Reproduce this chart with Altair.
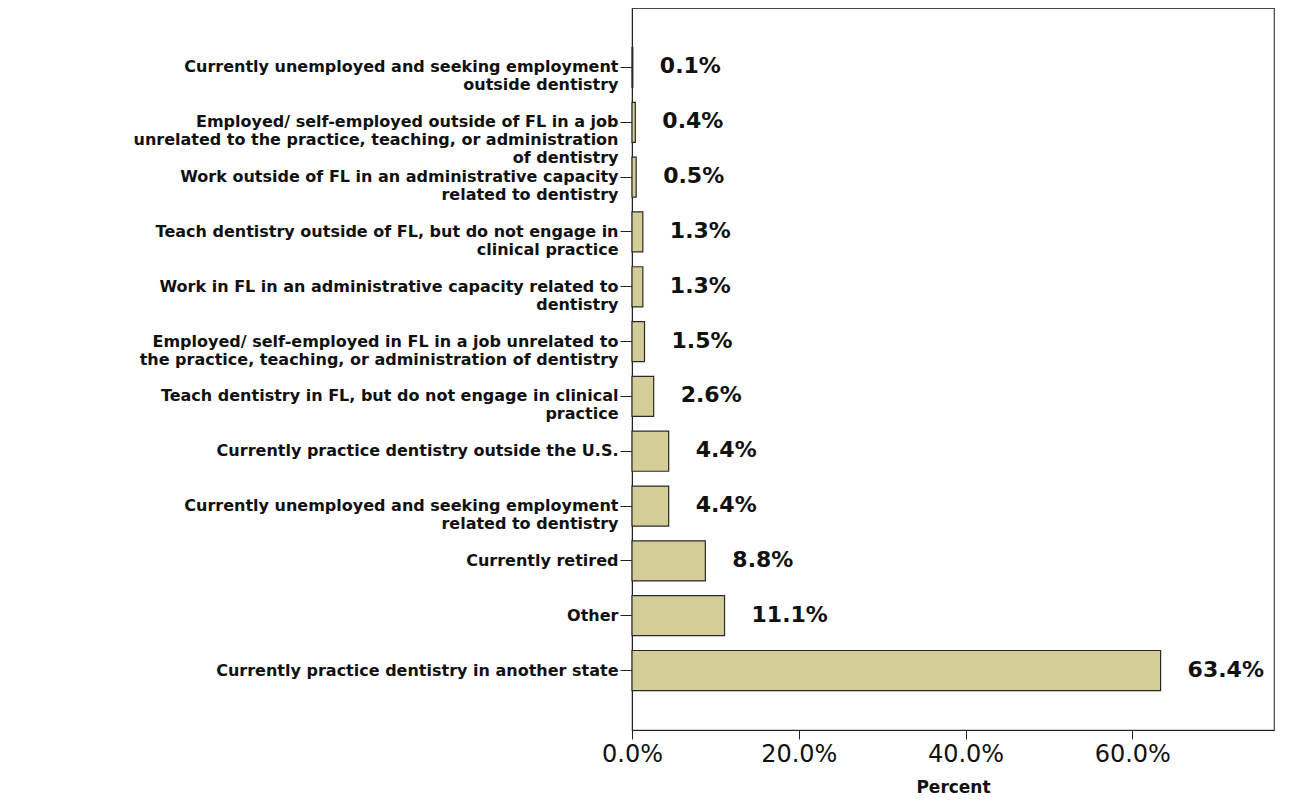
import altair as alt
import pandas as pd

categories = [
    "Currently unemployed and seeking employment\noutside dentistry",
    "Employed/ self-employed outside of FL in a job\nunrelated to the practice, teaching, or administration\nof dentistry",
    "Work outside of FL in an administrative capacity\nrelated to dentistry",
    "Teach dentistry outside of FL, but do not engage in\nclinical practice",
    "Work in FL in an administrative capacity related to\ndentistry",
    "Employed/ self-employed in FL in a job unrelated to\nthe practice, teaching, or administration of dentistry",
    "Teach dentistry in FL, but do not engage in clinical\npractice",
    "Currently practice dentistry outside the U.S.",
    "Currently unemployed and seeking employment\nrelated to dentistry",
    "Currently retired",
    "Other",
    "Currently practice dentistry in another state",
]
percents = [0.1, 0.4, 0.5, 1.3, 1.3, 1.5, 2.6, 4.4, 4.4, 8.8, 11.1, 63.4]
x_ticks = [0, 20, 40, 60]

df = pd.DataFrame({"category": categories, "percent": percents})

y_enc = alt.Y(
    "category:N",
    sort=categories,
    scale=alt.Scale(paddingInner=0.27, paddingOuter=0.72),
    axis=alt.Axis(
        title=None,
        labelExpr="split(datum.label, '\\n')",
        labelFont="DejaVu Sans",
        labelFontWeight="bold",
        labelFontSize=16,
        labelLineHeight=18,
        labelColor="#111111",
        labelLimit=700,
        labelPadding=2,
        tickSize=12,
        tickColor="#222222",
        domainColor="#222222",
        labelOverlap=False,
    ),
)

x_enc = alt.X(
    "percent:Q",
    scale=alt.Scale(domain=[0, 77], nice=False, zero=True),
    axis=alt.Axis(
        values=x_ticks,
        labelExpr="format(datum.value, '.1f') + '%'",
        title="Percent",
        titleFont="DejaVu Sans",
        titleFontWeight="bold",
        titleFontSize=17,
        titleColor="#111111",
        titlePadding=13,
        labelFont="DejaVu Sans",
        labelFontSize=24,
        labelColor="#111111",
        labelPadding=3,
        tickSize=9,
        tickColor="#222222",
        domainColor="#222222",
        grid=False,
        labelFlush=False,
    ),
)

bars = alt.Chart(df).mark_bar(
    color="#d3cd98", stroke="#2a2a2a", strokeWidth=1.2
).encode(y=y_enc, x=x_enc)

text = alt.Chart(df).transform_calculate(
    label="format(datum.percent, '.1f') + '%'"
).mark_text(
    align="left", baseline="middle", dx=27, dy=-1,
    font="DejaVu Sans", fontWeight="bold", fontSize=22, color="#111111"
).encode(y=alt.Y("category:N", sort=categories), x="percent:Q", text="label:N")

chart = (
    alt.layer(bars, text)
    .properties(
        width=642,
        height=722,
        autosize=alt.AutoSizeParams(type="none"),
        padding={"left": 624, "top": 0, "right": 8, "bottom": 70},
        background="white",
    )
    .configure_view(stroke="#444444", strokeWidth=1.2)
)

chart.save("out.html", embed_options={"renderer": "svg", "actions": False})
